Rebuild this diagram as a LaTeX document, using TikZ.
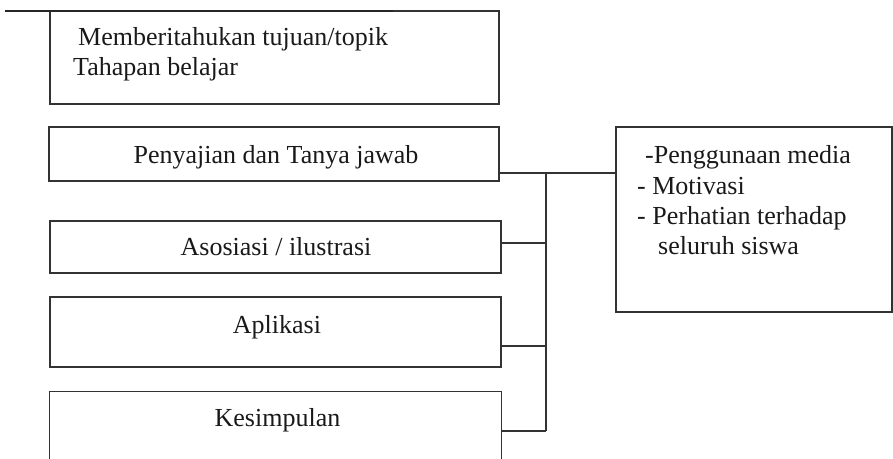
\documentclass[tikz,border=0pt]{standalone}
\usepackage{fontspec}
\setmainfont{Liberation Serif}
\begin{document}
\begin{tikzpicture}[x=1pt,y=-1pt,
  frame/.style={draw=black!80, line width=1.3pt, rectangle, inner sep=0pt},
  lbl/.style={inner sep=0pt, font=\fontsize{26}{30}\selectfont, text=black!90},
  conn/.style={draw=black!80, line width=1.3pt}]
\useasboundingbox (0,0) rectangle (893,458);
% top box
\node[frame, minimum width=449pt, minimum height=93pt] (tb) at (274.5,57.5) {};
\coordinate (hl0) at (5,11);
\coordinate (hl1) at (393,11);
\draw[draw=black!85, line width=2pt] (hl0) -- (hl1);
\node[lbl, anchor=base west] (tbt1) at (78,45) {Memberitahukan tujuan/topik};
\node[lbl, anchor=base west] (tbt2) at (73,75) {Tahapan belajar};
% left column
\node[frame, minimum width=450pt, minimum height=54pt] (pen) at (274,154) {};
\node[lbl, anchor=base] (pent) at (276,163) {Penyajian dan Tanya jawab};
\node[frame, minimum width=451pt, minimum height=52pt] (aso) at (275.5,247) {};
\node[lbl, anchor=base] (asot) at (276,255) {Asosiasi / ilustrasi};
\node[frame, minimum width=451pt, minimum height=70pt] (apl) at (275.5,332) {};
\node[lbl, anchor=base] (aplt) at (277,333) {Aplikasi};
\node[inner sep=0pt, minimum width=451pt, minimum height=67pt] (kes) at (275.5,425) {};
\draw[conn] (kes.south west) -- (kes.north west) -- (kes.north east) -- (kes.south east);
\node[lbl, anchor=base] (kest) at (277.5,426) {Kesimpulan};
% right box
\node[frame, minimum width=276pt, minimum height=185pt] (rb) at (754,219.5) {};
\node[lbl, anchor=base west] (rbt1) at (645,163) {-Penggunaan media};
\node[lbl, anchor=base west] (rbt2) at (637,194) {- Motivasi};
\node[lbl, anchor=base west] (rbt3) at (637,224) {- Perhatian terhadap};
\node[lbl, anchor=base west] (rbt4) at (658,254) {seluruh siswa};
% connectors
\coordinate (j1) at (546,173);
\coordinate (j2) at (546,243);
\coordinate (j3) at (546,346);
\coordinate (j4) at (546,431);
\draw[conn] (pen.east |- j1) -- (j1) -- (rb.west |- j1);
\draw[conn] (j1) -- (j4);
\draw[conn] (aso.east |- j2) -- (j2);
\draw[conn] (apl.east |- j3) -- (j3);
\draw[conn] (kes.east |- j4) -- (j4);
\end{tikzpicture}
\end{document}
